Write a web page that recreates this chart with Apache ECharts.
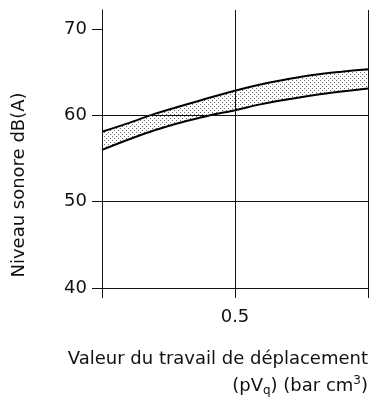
<!DOCTYPE html>
<html>
<head>
<meta charset="utf-8">
<script src="https://cdn.jsdelivr.net/npm/echarts@6/dist/echarts.min.js"></script>
<style>html,body{margin:0;padding:0;background:#fff;}#chart{width:371px;height:398px;}</style>
</head>
<body>
<div id="chart"></div>
<script>
// ---- data ----
const xValues    = [0, 0.1, 0.2, 0.3, 0.4, 0.5, 0.6, 0.7, 0.8, 0.9, 1.0];
const upperLevel = [58.1, 59.1, 60.2, 61.1, 62.0, 62.85, 63.6, 64.2, 64.7, 65.05, 65.35];
const lowerLevel = [56.0, 57.2, 58.3, 59.2, 59.95, 60.6, 61.3, 61.85, 62.35, 62.75, 63.1];
const yTickValues = [40, 50, 60, 70];
const xTickLabels = [0.5];
const yAxisTitle = 'Niveau sonore dB(A)';
const xAxisTitleLine1 = 'Valeur du travail de déplacement';

const FONT = 'DejaVu Sans';
const INK = '#111';

// dotted fill pattern
const pat = document.createElement('canvas');
pat.width = 4; pat.height = 4;
const pc = pat.getContext('2d');
pc.fillStyle = '#fff'; pc.fillRect(0, 0, 4, 4);
pc.fillStyle = '#666';
pc.fillRect(0, 0, 1, 1);
pc.fillRect(2, 2, 1, 1);

const chart = echarts.init(document.getElementById('chart'), null, {renderer: 'canvas'});
chart.setOption({
  backgroundColor: '#fff',
  animation: false,
  grid: {left: 102, right: 3, top: 10, bottom: 110, containLabel: false},
  xAxis: {
    type: 'value', min: 0, max: 1, interval: 0.5, z: 5,
    axisLine: {show: true, lineStyle: {color: INK, width: 1}},
    axisTick: {show: true, length: 10, lineStyle: {color: INK, width: 1}},
    axisLabel: {customValues: xTickLabels, margin: 20, color: INK, fontFamily: FONT, fontSize: 18},
    splitLine: {show: true, lineStyle: {color: INK, width: 1}}
  },
  yAxis: {
    type: 'value', min: 40, max: 72.2, interval: 10, z: 5,
    axisLine: {show: true, lineStyle: {color: INK, width: 1}},
    axisTick: {show: true, length: 10, customValues: yTickValues, lineStyle: {color: INK, width: 1}},
    axisLabel: {customValues: yTickValues, margin: 15, color: INK, fontFamily: FONT, fontSize: 18},
    splitLine: {show: true, showMaxLine: false, lineStyle: {color: INK, width: 1}}
  },
  graphic: [
    {type: 'text', x: 19, y: 185, rotation: Math.PI / 2,
     style: {text: yAxisTitle, fill: INK, font: '18px "' + FONT + '"', textAlign: 'center', textVerticalAlign: 'middle'}},
    {type: 'text', x: 368, y: 359,
     style: {text: xAxisTitleLine1, fill: INK, font: '18px "' + FONT + '"', textAlign: 'right', textVerticalAlign: 'middle'}},
    {type: 'text', x: 368, y: 386,
     style: {text: '(pV{sub|q}) (bar cm{sup|3})', fill: INK, fontFamily: FONT, fontSize: 18, lineHeight: 22,
             textAlign: 'right', textVerticalAlign: 'middle',
             rich: {
               sub: {fontFamily: FONT, fontSize: 12, fill: INK, verticalAlign: 'bottom', lineHeight: 12},
               sup: {fontFamily: FONT, fontSize: 12, fill: INK, verticalAlign: 'top', lineHeight: 12}
             }}}
  ],
  series: [
    {
      name: 'upper', type: 'line', smooth: 0.3, symbol: 'none', z: 2,
      data: xValues.map((x, i) => [x, upperLevel[i]]),
      lineStyle: {color: '#000', width: 2},
      areaStyle: {color: {image: pat, repeat: 'repeat'}, opacity: 1}
    },
    {
      name: 'lower', type: 'line', smooth: 0.3, symbol: 'none', z: 3,
      data: xValues.map((x, i) => [x, lowerLevel[i]]),
      lineStyle: {color: '#000', width: 2},
      areaStyle: {color: '#fff', opacity: 1}
    }
  ]
});
</script>
</body>
</html>
